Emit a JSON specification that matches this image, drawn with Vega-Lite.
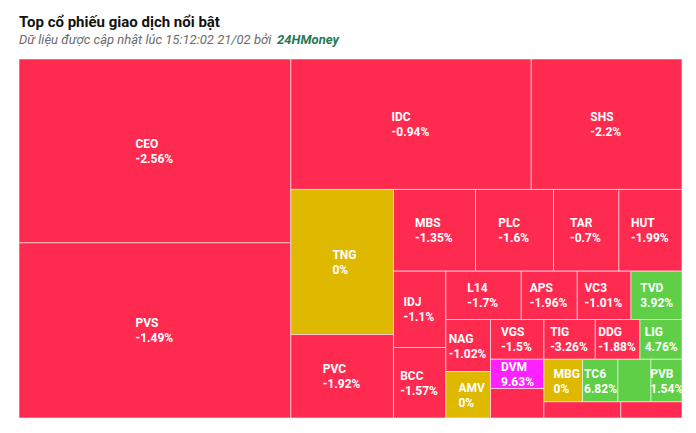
{
  "$schema": "https://vega.github.io/schema/vega-lite/v6.json",
  "width": 663,
  "height": 359,
  "autosize": {"type": "none"},
  "padding": {"left": 19, "top": 59, "right": 14, "bottom": 15},
  "background": "white",
  "config": {"view": {"stroke": null}, "font": "Roboto"},
  "title": {
    "text": "Top cổ phiếu giao dịch nổi bật",
    "subtitle": "Dữ liệu được cập nhật lúc 15:12:02 21/02 bởi",
    "anchor": "start",
    "frame": "group",
    "font": "Roboto",
    "fontSize": 15,
    "fontWeight": "bold",
    "color": "#111111",
    "subtitleFont": "Roboto",
    "subtitleFontSize": 13,
    "subtitleFontStyle": "italic",
    "subtitleColor": "#6b6b6b",
    "subtitlePadding": 4,
    "offset": -13
  },
  "data": {
    "values": [
      {"ticker": "CEO", "change": "-2.56%", "trend": "down", "x0": 0, "x1": 41.0, "y0": 0, "y1": 51.21},
      {"ticker": "PVS", "change": "-1.49%", "trend": "down", "x0": 0, "x1": 41.0, "y0": 51.21, "y1": 100},
      {"ticker": "IDC", "change": "-0.94%", "trend": "down", "x0": 41.0, "x1": 77.26, "y0": 0, "y1": 36.33},
      {"ticker": "SHS", "change": "-2.2%", "trend": "down", "x0": 77.26, "x1": 100, "y0": 0, "y1": 36.33},
      {"ticker": "TNG", "change": "0%", "trend": "flat", "x0": 41.0, "x1": 56.48, "y0": 36.33, "y1": 76.75},
      {"ticker": "PVC", "change": "-1.92%", "trend": "down", "x0": 41.0, "x1": 56.48, "y0": 76.75, "y1": 100},
      {"ticker": "MBS", "change": "-1.35%", "trend": "down", "x0": 56.48, "x1": 68.86, "y0": 36.33, "y1": 59.1},
      {"ticker": "PLC", "change": "-1.6%", "trend": "down", "x0": 68.86, "x1": 80.62, "y0": 36.33, "y1": 59.1},
      {"ticker": "TAR", "change": "-0.7%", "trend": "down", "x0": 80.62, "x1": 90.49, "y0": 36.33, "y1": 59.1},
      {"ticker": "HUT", "change": "-1.99%", "trend": "down", "x0": 90.49, "x1": 100, "y0": 36.33, "y1": 59.1},
      {"ticker": "IDJ", "change": "-1.1%", "trend": "down", "x0": 56.48, "x1": 64.39, "y0": 59.1, "y1": 80.37},
      {"ticker": "BCC", "change": "-1.57%", "trend": "down", "x0": 56.48, "x1": 64.39, "y0": 80.37, "y1": 100},
      {"ticker": "L14", "change": "-1.7%", "trend": "down", "x0": 64.39, "x1": 75.75, "y0": 59.1, "y1": 72.57},
      {"ticker": "APS", "change": "-1.96%", "trend": "down", "x0": 75.75, "x1": 84.2, "y0": 59.1, "y1": 72.57},
      {"ticker": "VC3", "change": "-1.01%", "trend": "down", "x0": 84.2, "x1": 92.3, "y0": 59.1, "y1": 72.57},
      {"ticker": "TVD", "change": "3.92%", "trend": "up", "x0": 92.3, "x1": 100, "y0": 59.1, "y1": 72.57},
      {"ticker": "NAG", "change": "-1.02%", "trend": "down", "x0": 64.39, "x1": 71.12, "y0": 72.57, "y1": 87.06},
      {"ticker": "AMV", "change": "0%", "trend": "flat", "x0": 64.39, "x1": 71.12, "y0": 87.06, "y1": 100},
      {"ticker": "VGS", "change": "-1.5%", "trend": "down", "x0": 71.12, "x1": 79.18, "y0": 72.57, "y1": 83.64},
      {"ticker": "TIG", "change": "-3.26%", "trend": "down", "x0": 79.18, "x1": 86.92, "y0": 72.57, "y1": 83.64},
      {"ticker": "DDG", "change": "-1.88%", "trend": "down", "x0": 86.92, "x1": 93.66, "y0": 72.57, "y1": 83.64},
      {"ticker": "LIG", "change": "4.76%", "trend": "up", "x0": 93.66, "x1": 100, "y0": 72.57, "y1": 83.64},
      {"ticker": "DVM", "change": "9.63%", "trend": "ceiling", "x0": 71.12, "x1": 79.18, "y0": 83.64, "y1": 91.8},
      {"ticker": "", "change": "", "trend": "down", "x0": 71.12, "x1": 79.18, "y0": 91.8, "y1": 100},
      {"ticker": "MBG", "change": "0%", "trend": "flat", "x0": 79.18, "x1": 85.0, "y0": 83.64, "y1": 95.48},
      {"ticker": "TC6", "change": "6.82%", "trend": "up", "x0": 85.0, "x1": 90.34, "y0": 83.64, "y1": 95.48},
      {"ticker": "", "change": "", "trend": "up", "x0": 90.34, "x1": 95.32, "y0": 83.64, "y1": 95.48},
      {"ticker": "PVB", "change": "1.54%", "trend": "up", "x0": 95.32, "x1": 100, "y0": 83.64, "y1": 95.48},
      {"ticker": "", "change": "", "trend": "down", "x0": 79.18, "x1": 90.77, "y0": 95.48, "y1": 100},
      {"ticker": "", "change": "", "trend": "down", "x0": 90.77, "x1": 100, "y0": 95.48, "y1": 100}
    ]
  },
  "layer": [
    {
      "mark": {"type": "rect", "stroke": "#ffffff", "strokeWidth": 1, "strokeOpacity": 0.55},
      "encoding": {
        "x": {"field": "x0", "type": "quantitative", "scale": {"domain": [0, 100], "nice": false, "zero": false}, "axis": null},
        "x2": {"field": "x1"},
        "y": {"field": "y0", "type": "quantitative", "scale": {"domain": [0, 100], "nice": false, "zero": false, "reverse": true}, "axis": null},
        "y2": {"field": "y1"},
        "color": {
          "field": "trend",
          "type": "nominal",
          "scale": {"domain": ["down", "flat", "up", "ceiling"], "range": ["#ff2a50", "#dfb800", "#5ecf46", "#ff20ff"]},
          "legend": null
        }
      }
    },
    {
      "transform": [
        {"calculate": "datum.ticker + '\\n' + datum.change", "as": "label"},
        {"calculate": "(datum.x0 + datum.x1) / 2 - max(length(datum.ticker), length(datum.change)) * 0.49", "as": "lx"},
        {"calculate": "(datum.y0 + datum.y1) / 2", "as": "cy"}
      ],
      "mark": {"type": "text", "align": "left", "baseline": "middle", "dy": -7, "fontSize": 12, "fontWeight": "bold", "color": "#ffffff", "lineBreak": "\n", "lineHeight": 15, "font": "Roboto"},
      "encoding": {
        "x": {"field": "lx", "type": "quantitative"},
        "y": {"field": "cy", "type": "quantitative"},
        "text": {"field": "label"}
      }
    },
    {
      "data": {"values": [{"brand": "24HMoney"}]},
      "mark": {"type": "text", "align": "left", "baseline": "alphabetic", "fontSize": 13, "fontWeight": "bold", "fontStyle": "italic", "color": "#1d7a5a", "font": "Roboto"},
      "encoding": {
        "x": {"datum": 38.93, "type": "quantitative"},
        "y": {"datum": -4.04, "type": "quantitative"},
        "text": {"field": "brand"}
      }
    }
  ]
}
